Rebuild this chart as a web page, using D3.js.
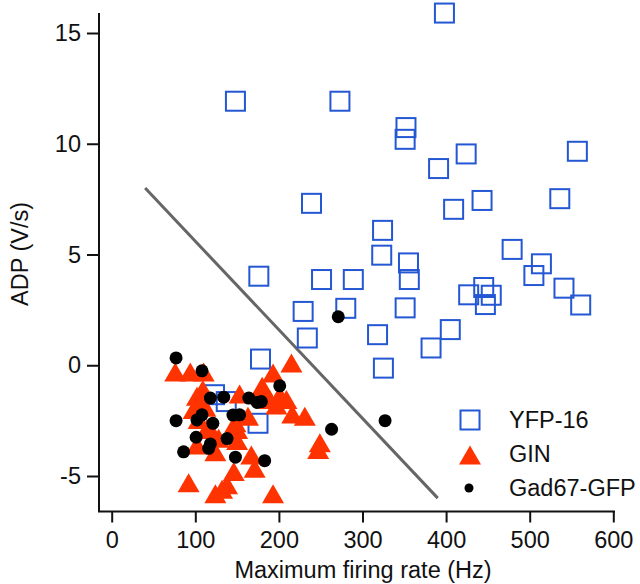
<!doctype html>
<html>
<head>
  <meta charset="utf-8">
  <script src="https://cdnjs.cloudflare.com/ajax/libs/d3/7.8.5/d3.min.js" type="text/JavaScript"></script>
  <style>
    body { margin: 0; background: #fff; }
    text { font-family: "Liberation Sans", Arial, Helvetica, sans-serif; }
  </style>
</head>
<body>
<svg height="584" width="640"></svg>
<script type="text/javascript">
// YFP-16 (open squares)
var yfpRate = [398,273,148,352,351,424,557,391,239,409,443,536,324,323,355,356,251,289,176,479,
               514,505,541,561,445,427,454,447,280,351,229,405,318,382,234,325,178,175,123,137];
var yfpAdp  = [15.9,11.92,11.92,10.73,10.2,9.54,9.66,8.88,7.31,7.04,7.44,7.52,6.09,4.97,4.62,3.87,3.87,3.87,4.02,5.23,
               4.58,4.05,3.48,2.72,3.51,3.18,3.16,2.74,2.57,2.59,2.43,1.61,1.38,0.78,1.23,-0.13,0.28,-2.62,-1.33,-1.64];

// GIN (filled triangles)
var ginRate = [76,94,110,109,102,106,98,104,114,118,102,124,92,124,132,138,146,142,148,150,
               150,153,163,167,171,180,179,189,193,201,197,209,215,216,231,247,249,193,128,112];
var ginAdp  = [-0.3,-0.3,-0.3,-1.1,-1.4,-1.65,-2.0,-2.45,-2.85,-2.9,-3.6,-3.9,-5.3,-5.8,-5.6,-5.4,-4.8,-3.1,-2.6,-2.9,
               -3.4,-1.3,-2.3,-4.05,-4.65,-0.95,-1.1,-1.55,-0.35,-1.35,-1.8,-1.55,0.1,-2.2,-2.3,-3.8,-3.5,-5.8,-3.3,-1.9];

// Gad67-GFP (black dots)
var gadRate = [77,108,118,134,164,174,179,201,77,102,108,121,145,153,101,138,118,116,86,148,183,263,327,271];
var gadAdp  = [0.33,-0.25,-1.48,-1.44,-1.48,-1.68,-1.64,-0.93,-2.5,-2.47,-2.24,-2.62,-2.25,-2.24,-3.25,-3.31,-3.55,-3.75,-3.91,-4.15,-4.31,-2.89,-2.5,2.19];

// separating line
var sepRate = [40, 390];
var sepAdp  = [8, -6];

var xTicks = [0,100,200,300,400,500,600];
var yTicks = [-5,0,5,10,15];
var legendNames = ["YFP-16","GIN","Gad67-GFP"];

var svg = d3.select("svg");
var x = d3.scaleLinear().domain([0,600]).range([111.7,613.3]);
var y = d3.scaleLinear().domain([-5,15]).range([476,33]);
var fs = "23.5px";
var blue = "#2457d3", red = "#ff3300";
var tri = "M0,-9.5L11,9.5L-11,9.5Z";

// axes
var xAxis = svg.append("g").attr("transform","translate(0,511.5)")
  .call(d3.axisBottom(x).tickValues(xTicks).tickSize(11).tickPadding(9).tickFormat(d => String(d)));
var yAxis = svg.append("g").attr("transform","translate(99,0)")
  .call(d3.axisLeft(y).tickValues(yTicks).tickSize(12).tickPadding(6).tickFormat(d => String(d)));
[xAxis, yAxis].forEach(g => {
  g.select(".domain").remove();
  g.selectAll("line").attr("stroke","#111").attr("stroke-width",2);
  g.selectAll("text").attr("fill","#111").style("font-size",fs).style("font-family","'Liberation Sans', Arial, sans-serif");
});
svg.append("path").attr("d","M99,13V511.5H615")
  .attr("fill","none").attr("stroke","#111").attr("stroke-width",2);

svg.append("text").attr("x",363).attr("y",578).attr("text-anchor","middle")
  .style("font-size",fs).attr("fill","#111").text("Maximum firing rate (Hz)");
svg.append("text").attr("transform","translate(28,254) rotate(-90)").attr("text-anchor","middle")
  .style("font-size",fs).attr("fill","#111").text("ADP (V/s)");

// line
svg.append("line")
  .attr("x1",x(sepRate[0])).attr("y1",y(sepAdp[0]))
  .attr("x2",x(sepRate[1])).attr("y2",y(sepAdp[1]))
  .attr("stroke","#666").attr("stroke-width",3);

// squares
svg.append("g").selectAll("rect").data(d3.range(yfpRate.length)).enter().append("rect")
  .attr("x", i => x(yfpRate[i]) - 9.5).attr("y", i => y(yfpAdp[i]) - 9.5)
  .attr("width",19).attr("height",19)
  .attr("fill","none").attr("stroke",blue).attr("stroke-width",2);

// triangles
svg.append("g").selectAll("path").data(d3.range(ginRate.length)).enter().append("path")
  .attr("d",tri)
  .attr("transform", i => "translate(" + x(ginRate[i]) + "," + y(ginAdp[i]) + ")")
  .attr("fill",red);

// dots
svg.append("g").selectAll("circle").data(d3.range(gadRate.length)).enter().append("circle")
  .attr("cx", i => x(gadRate[i])).attr("cy", i => y(gadAdp[i])).attr("r",6.5)
  .attr("fill","#000");

// legend
var lg = svg.append("g");
lg.append("rect").attr("x",460.5).attr("y",410.5).attr("width",19).attr("height",19)
  .attr("fill","none").attr("stroke",blue).attr("stroke-width",2);
lg.append("path").attr("d",tri).attr("transform","translate(470,455)").attr("fill",red);
lg.append("circle").attr("cx",469).attr("cy",488).attr("r",4.5).attr("fill","#000");
lg.selectAll("text").data(legendNames).enter().append("text")
  .attr("x",509).attr("y",(d,i) => 428 + i*34)
  .style("font-size",fs).attr("fill","#111").text(d => d);
</script>
</body>
</html>
